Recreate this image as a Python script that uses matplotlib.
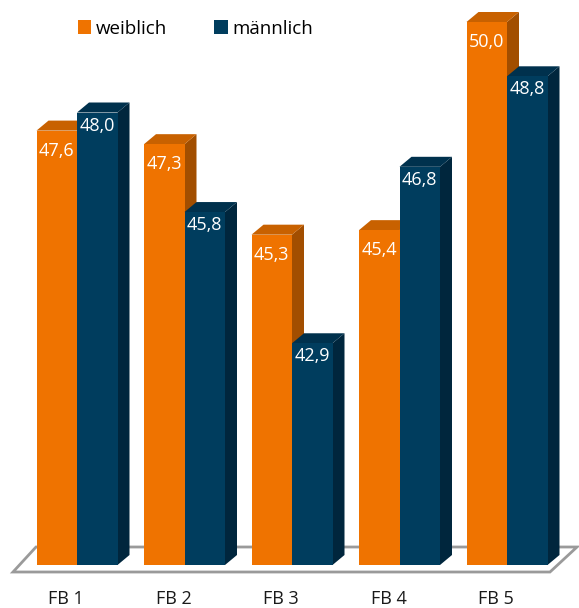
import matplotlib
matplotlib.use("Agg")
import matplotlib.pyplot as plt
from matplotlib.patches import Polygon, Patch
import numpy as np

plt.rcParams['font.family'] = ['Open Sans', 'DejaVu Sans']

categories = ["FB 1", "FB 2", "FB 3", "FB 4", "FB 5"]
series_names = ["weiblich", "männlich"]
weiblich = [47.6, 47.3, 45.3, 45.4, 50.0]
maennlich = [48.0, 45.8, 42.9, 46.8, 48.8]

# styles
front_cols = ["#EF7300", "#003D5E"]
top_cols = ["#C86100", "#00314D"]
side_cols = ["#A24E00", "#00263D"]

W, H = 579, 608
DPI = 100
fig = plt.figure(figsize=(W / DPI, H / DPI), dpi=DPI)
ax = fig.add_axes([0, 0, 1, 1])
ax.set_axis_off()

# layout: px per unit
px_x = 107.5
x0_px = 77.0
base_val = 38.0
base_px = 565.0
px_y = 45.25
ax.set_xlim(-x0_px / px_x, (W - x0_px) / px_x)
ax.set_ylim(base_val - (H - base_px) / px_y, base_val + base_px / px_y)

bw = 40.5 / px_x
ddx = 12 / px_x
ddy = 10 / px_y

def px2x(p):
    return (p - x0_px) / px_x

def px2y(p):
    return base_val - (p - base_px) / px_y

# floor
floor = Polygon([(px2x(13), px2y(572)), (px2x(550), px2y(572)),
                 (px2x(577), px2y(547)), (px2x(36), px2y(547))],
                closed=True, facecolor="white", edgecolor="#9a9a9a", lw=2.0, zorder=1)
ax.add_patch(floor)

x = np.arange(len(categories))
series = [weiblich, maennlich]
offsets_px = [20, 13]
for s, vals in enumerate(series):
    lefts = x - bw + s * bw
    bars = ax.bar(lefts, np.array(vals) - base_val, width=bw, bottom=base_val,
                  align="edge", color=front_cols[s], zorder=3 + 2 * s, lw=0)
    for rect, v in zip(bars, vals):
        xl = rect.get_x()
        xr = xl + rect.get_width()
        top = Polygon([(xl, v), (xr, v), (xr + ddx, v + ddy), (xl + ddx, v + ddy)],
                      closed=True, facecolor=top_cols[s], lw=0, zorder=2 + 2 * s)
        side = Polygon([(xr, base_val), (xr, v), (xr + ddx, v + ddy), (xr + ddx, base_val + ddy)],
                       closed=True, facecolor=side_cols[s], lw=0, zorder=2 + 2 * s)
        ax.add_patch(side)
        ax.add_patch(top)
        ax.text(xl + rect.get_width() / 2, v - offsets_px[s] / px_y,
                f"{v:.1f}".replace(".", ","), color="white", fontsize=13,
                ha="center", va="center", zorder=10)

for i, c in enumerate(categories):
    ax.text(i - 11 / px_x, px2y(599), c, ha="center", va="center",
            fontsize=13, color="#1a1a1a")

handles = [Patch(facecolor=front_cols[0]), Patch(facecolor=front_cols[1])]
fig.legend(handles, series_names, loc="upper left", bbox_to_anchor=(70 / W, 1 - 12 / H),
           ncol=2, frameon=False, fontsize=13.5, handlelength=0.7, handleheight=0.7,
           handletextpad=0.25, columnspacing=2.55, borderaxespad=0)

fig.savefig("out.png", dpi=DPI)
